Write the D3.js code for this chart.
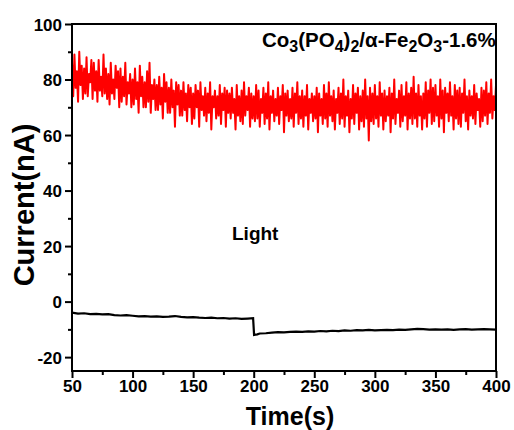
<!DOCTYPE html>
<html><head><meta charset="utf-8">
<script src="https://cdn.jsdelivr.net/npm/d3@7/dist/d3.min.js"></script>
<style>body{margin:0;background:#fff}svg{display:block}text{font-family:"Liberation Sans",Arial,sans-serif;font-weight:bold}</style>
</head><body><svg id="c" width="514" height="430"></svg>
<script>
// Light-on photocurrent (red), sampled every 1 s from 50 s to 400 s
const redStart = 50;
const redValues = [
86,74,89,77,83,72,90,78,85,73,
84,75,88,74,82,79,87,73,86,76,
83,72,87,76,81,74,89,75,84,73,
82,71,86,75,80,73,85,77,83,70,
84,72,81,74,86,71,79,75,82,70,
80,71,84,73,79,68,85,74,81,70,
79,70,83,72,86,68,78,73,80,69,
78,69,81,71,77,66,82,72,79,68,
77,68,80,70,76,63,79,71,78,67,
76,67,79,69,75,65,78,70,77,64,
75,66,78,70,76,63,79,69,74,67,
77,65,75,68,79,62,74,70,76,66,
74,67,78,64,75,69,77,63,76,68,
75,66,77,68,73,62,78,67,74,65,
76,64,79,67,74,69,77,63,75,66,
74,65,78,66,76,63,73,68,77,64,
75,66,79,62,74,68,76,65,73,67,
77,64,74,69,78,61,75,67,76,65,
73,66,77,63,75,68,79,64,74,66,
76,63,74,67,78,62,73,68,75,65,
74,66,77,61,75,67,73,64,78,66,
75,63,79,67,74,65,76,62,73,68,
77,64,75,66,80,63,74,67,76,61,
73,66,78,64,75,68,77,62,74,65,
76,63,80,66,74,58,77,65,75,64,
78,66,74,63,79,67,75,62,76,65,
74,67,77,61,75,66,80,64,73,68,
76,63,78,65,74,67,79,62,75,66,
77,64,81,66,75,63,78,67,74,62,
75,66,79,63,76,68,80,64,77,65,
78,67,74,63,80,66,76,61,77,68,
75,65,79,67,74,62,78,66,76,64,
77,63,75,68,80,65,74,62,76,67,
74,66,78,64,75,69,73,63,77,65,
76,67,79,64,75,68,80,66,74,69,
78
];
// Dark current (black)
const blackTimes = [50,55,60,65,70,75,80,85,90,95,100,105,110,115,120,125,130,135,140,145,150,155,160,165,170,175,180,185,190,195,199.5,200.3,203,205,210,215,220,225,230,235,240,245,250,255,260,265,270,275,280,285,290,295,300,305,310,315,320,325,330,335,340,345,350,355,360,365,370,375,380,385,390,395,400];
const blackValues = [-4.0,-4.3,-4.2,-4.5,-4.4,-4.6,-4.5,-4.9,-5.0,-4.9,-5.1,-5.3,-5.2,-5.4,-5.3,-5.5,-5.4,-5.2,-5.5,-5.7,-5.6,-5.8,-5.9,-5.8,-6.0,-5.9,-6.1,-6.0,-6.2,-6.1,-6.0,-12.0,-11.8,-11.5,-11.4,-11.2,-11.0,-11.1,-10.9,-10.8,-10.9,-10.7,-10.8,-10.6,-10.7,-10.5,-10.6,-10.4,-10.5,-10.3,-10.4,-10.2,-10.4,-10.3,-10.2,-10.3,-10.1,-10.2,-10.0,-9.8,-9.9,-10.1,-10.0,-10.1,-10.0,-10.2,-10.0,-9.9,-10.1,-10.0,-9.9,-10.0,-10.1];
const xTicks = [50,100,150,200,250,300,350,400];
const xMinor = [75,125,175,225,275,325,375];
const yTicks = [-20,0,20,40,60,80,100];
const yMinor = [-10,10,30,50,70,90];
const xTitle = "Time(s)";
const yTitle = "Current(nA)";
const lightLabel = "Light";

const svg = d3.select("#c");
const m = {l:72, r:18, t:24, b:59};
const W = 514, H = 430;
const x = d3.scaleLinear().domain([50,400]).range([m.l, W-m.r]);
const y = d3.scaleLinear().domain([-25,100]).range([H-m.b, m.t]);

const red = redValues.map((v,i)=>[redStart+i, v]);
const black = blackTimes.map((t,i)=>[t, blackValues[i]]);
const line = d3.line().x(d=>x(d[0])).y(d=>y(d[1]));

svg.append("path").datum(red).attr("d", line).attr("fill","none").attr("stroke","#ff0000").attr("stroke-width",2).attr("stroke-linejoin","round");
svg.append("path").datum(black).attr("d", line).attr("fill","none").attr("stroke","#000").attr("stroke-width",2.2);

// frame
svg.append("rect").attr("x",m.l).attr("y",m.t).attr("width",W-m.l-m.r).attr("height",H-m.t-m.b)
  .attr("fill","none").attr("stroke","#000").attr("stroke-width",2);

// axes
const fmt = d => String(d);
const gx = svg.append("g").attr("transform",`translate(0,${H-m.b})`);
gx.call(d3.axisBottom(x).tickValues(xTicks).tickSize(7).tickFormat(fmt));
const gxm = svg.append("g").attr("transform",`translate(0,${H-m.b})`);
gxm.call(d3.axisBottom(x).tickValues(xMinor).tickSize(4).tickFormat(""));
const gy = svg.append("g").attr("transform",`translate(${m.l},0)`);
gy.call(d3.axisLeft(y).tickValues(yTicks).tickSize(7).tickFormat(fmt));
const gym = svg.append("g").attr("transform",`translate(${m.l},0)`);
gym.call(d3.axisLeft(y).tickValues(yMinor).tickSize(4).tickFormat(""));
[gx,gxm,gy,gym].forEach(g=>{
  g.select(".domain").remove();
  g.selectAll(".tick line").attr("stroke","#000").attr("stroke-width",2);
  g.selectAll("text").attr("fill","#000").style("font-size","17px").style("font-family","'Liberation Sans',Arial,sans-serif").style("font-weight","bold");
});
gx.selectAll("text").attr("dy",null).attr("y",21);
gy.selectAll("text").attr("x",-10).attr("dy","0.36em");

// titles
svg.append("text").attr("x",290).attr("y",425).attr("text-anchor","middle").style("font-size","25px").text(xTitle);
svg.append("text").attr("transform","translate(34,205) rotate(-90)").attr("text-anchor","middle").style("font-size","29px").text(yTitle);
svg.append("text").attr("x",232).attr("y",240).style("font-size","19px").text(lightLabel);

// annotation with subscripts
const ann = svg.append("text").attr("x",262).attr("y",47).style("font-size","20.5px");
const parts = [["Co",0],["3",1],["(PO",0],["4",1],[")",0],["2",1],["/α-Fe",0],["2",1],["O",0],["3",1],["-1.6%",0]];
parts.forEach(([s,sub],i)=>{
  const prevSub = i>0 ? parts[i-1][1] : 0;
  const t = ann.append("tspan").text(s);
  if(sub) t.style("font-size","16px");
  t.attr("dy", sub && !prevSub ? 5 : (!sub && prevSub ? -5 : 0));
});
</script></body></html>
